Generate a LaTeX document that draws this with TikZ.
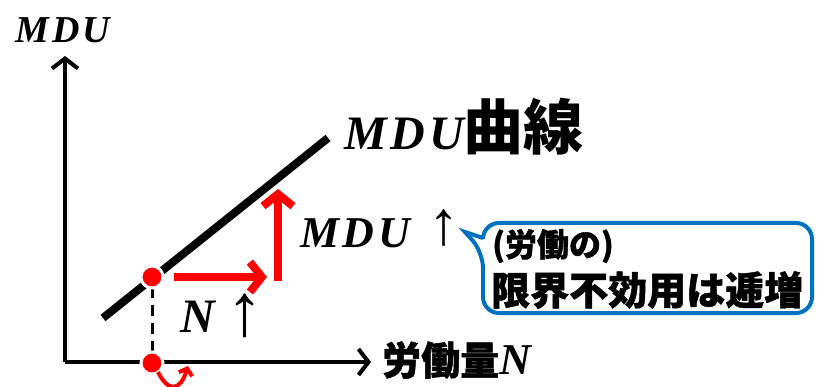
\documentclass[tikz,border=0pt]{standalone}
\usepackage{fontspec}
\usetikzlibrary{arrows.meta}
\newfontfamily\mf{Liberation Serif}[LetterSpace=8]
\newfontfamily\arr{Liberation Serif}
\newfontfamily\cjk{Noto Sans CJK JP}[BoldFeatures={FakeBold=1.2}]
\definecolor{calloutblue}{RGB}{0,112,192}
\tikzset{
  axisline/.style={line width=4pt, -{Straight Barb[length=10pt,width=26pt]}},
  redarrow/.style={red, line width=8pt, -{Straight Barb[length=12pt,width=30pt]}},
  reddot/.style={circle, fill=red, draw=white, line width=3pt, minimum size=22pt, inner sep=0pt},
  lab/.style={inner sep=0pt, text=black},
  mdu/.style={lab, font=\mf\bfseries\itshape},
  jp/.style={lab, font=\cjk\bfseries},
}
\begin{document}
\begin{tikzpicture}[x=1pt,y=-1pt]
\useasboundingbox[fill=white] (0,0) rectangle (818,387);
% axes
\coordinate (O) at (65,362);
\coordinate (Ytip) at (65,56);
\coordinate (Xtip) at (371,362);
\draw[axisline] (O) -- (Ytip);
\draw[axisline] (O) -- (Xtip);
\node[mdu, font=\mf\bfseries\itshape\fontsize{38}{40}\selectfont] (ylab) at (63,30) {MDU};
\node[lab, anchor=west] (xlab) at (382,360) {\cjk\bfseries\fontsize{39}{40}\selectfont 労働量\mf\bfseries\itshape\fontsize{44}{46}\selectfont N};
% MDU curve
\coordinate (c1) at (103,318);
\coordinate (c2) at (328,138);
\draw[line width=8pt] (c1) -- (c2);
\node[lab, anchor=west] (clab) at (344,127) {\mf\bfseries\itshape\fontsize{48}{50}\selectfont MDU\cjk\bfseries\fontsize{60}{62}\selectfont 曲線};
% dashed drop
\coordinate (dtop) at (152,287);
\coordinate (dbot) at (152,354);
\draw[line width=3pt, dash pattern=on 11pt off 7pt] (dtop) -- (dbot);
% red arrows
\coordinate (hs) at (174,277);
\coordinate (he) at (267,277);
\coordinate (vs) at (278,281);
\coordinate (ve) at (278,189);
\draw[redarrow] (hs) -- (he);
\draw[redarrow] (vs) -- (ve);
\node[reddot] (A) at (152,277) {};
\node[reddot] (B) at (152,363) {};
% small curved arrow
\coordinate (cs) at (158,372);
\coordinate (ce) at (188,366);
\draw[red, line width=4pt, -{Straight Barb[length=6pt,width=14pt]}] (cs) .. controls (168,392) and (180,392) .. (ce);
% labels
\node[lab, anchor=west] (mdulab) at (300,233) {\mf\bfseries\itshape\fontsize{44}{46}\selectfont MDU};
\node[lab] (mduup) at (444,228) {\arr\fontsize{62}{64}\selectfont ↑};
\node[lab, anchor=west] (nlab) at (180,317) {\mf\bfseries\itshape\fontsize{48}{50}\selectfont N};
\node[lab] (nup) at (245,316) {\arr\fontsize{74}{76}\selectfont ↑};
% callout
\draw[calloutblue, line width=4pt, rounded corners=16pt, fill=white]
  (483,235) -- (483,223) -- (812,223) -- (812,313) -- (483,313) -- (483,252) [sharp corners] -- (465,232) -- (483,238);
\node[jp, anchor=west, font=\cjk\bfseries\fontsize{32}{34}\selectfont] (t1) at (492,246) {(労働の)};
\node[jp, anchor=west, font=\cjk\bfseries\fontsize{39}{40}\selectfont] (t2) at (491,290) {限界不効用は逓増};
\end{tikzpicture}
\end{document}
